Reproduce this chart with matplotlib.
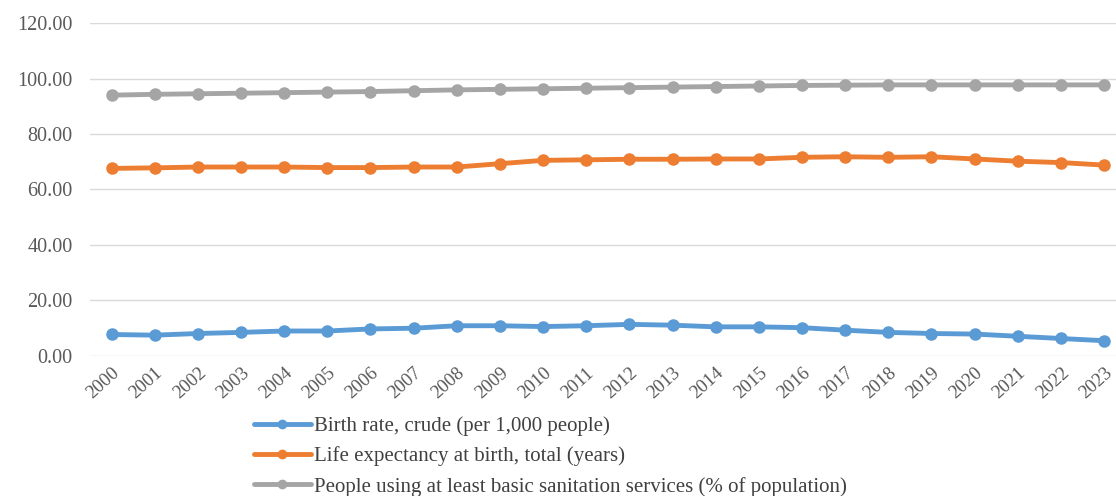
import matplotlib.pyplot as plt
import numpy as np

plt.rcParams['font.family'] = ['Liberation Serif', 'DejaVu Serif']

years = [str(y) for y in range(2000, 2024)]

birth_rate = [7.75, 7.5, 8.1, 8.5, 9.0, 9.0, 9.75, 10.0, 10.9, 10.9, 10.6, 10.9,
              11.4, 11.1, 10.5, 10.5, 10.2, 9.3, 8.5, 8.1, 7.9, 7.1, 6.3, 5.5]
life_expectancy = [67.6, 67.8, 68.1, 68.1, 68.1, 67.9, 67.9, 68.1, 68.1, 69.3, 70.5, 70.7,
                   70.9, 70.9, 71.0, 71.0, 71.6, 71.8, 71.6, 71.8, 71.0, 70.2, 69.7, 68.8]
sanitation = [94.0, 94.3, 94.5, 94.7, 94.9, 95.1, 95.3, 95.6, 95.9, 96.1, 96.3, 96.5,
              96.7, 96.9, 97.1, 97.3, 97.5, 97.6, 97.7, 97.7, 97.7, 97.7, 97.7, 97.7]

labels = ["Birth rate, crude (per 1,000 people)",
          "Life expectancy at birth, total (years)",
          "People using at least basic sanitation services (% of population)"]
colors = ["#5B9BD5", "#ED7D31", "#A5A5A5"]

fig = plt.figure(figsize=(11.16, 4.96), dpi=100)
ax = fig.add_axes([0.0806, 0.2823, 0.928, 0.6713])

x = np.arange(len(years))
for series, label, color in zip([birth_rate, life_expectancy, sanitation], labels, colors):
    ax.plot(x, series, color=color, lw=3.5, marker='o', markersize=8, label=label,
            solid_capstyle='round')

ax.set_xlim(-0.5, len(years) - 0.5)
ax.set_ylim(0, 120)
ax.set_yticks(np.arange(0, 121, 20))
ax.set_yticklabels([f"{v:.2f}" for v in np.arange(0, 121, 20)])
ax.set_xticks(x)
ax.set_xticklabels(years, rotation=42, ha='right', rotation_mode='anchor')
ax.tick_params(axis='x', length=0, labelsize=13.5, colors='#595959', pad=6)
ax.tick_params(axis='y', length=0, labelsize=14.5, colors='#595959', pad=12.5)
ax.grid(axis='y', color='#D9D9D9', lw=1)
ax.set_axisbelow(True)
for s in ax.spines.values():
    s.set_visible(False)

# legend stacked under the year labels
fig.legend(loc='upper left', bbox_to_anchor=(0.218, 0.182), frameon=False,
           fontsize=15, handlelength=2.75, handletextpad=0.15, labelspacing=0.5,
           borderpad=0, labelcolor='#404040', markerscale=0.75)

fig.savefig("out.png", dpi=100)
